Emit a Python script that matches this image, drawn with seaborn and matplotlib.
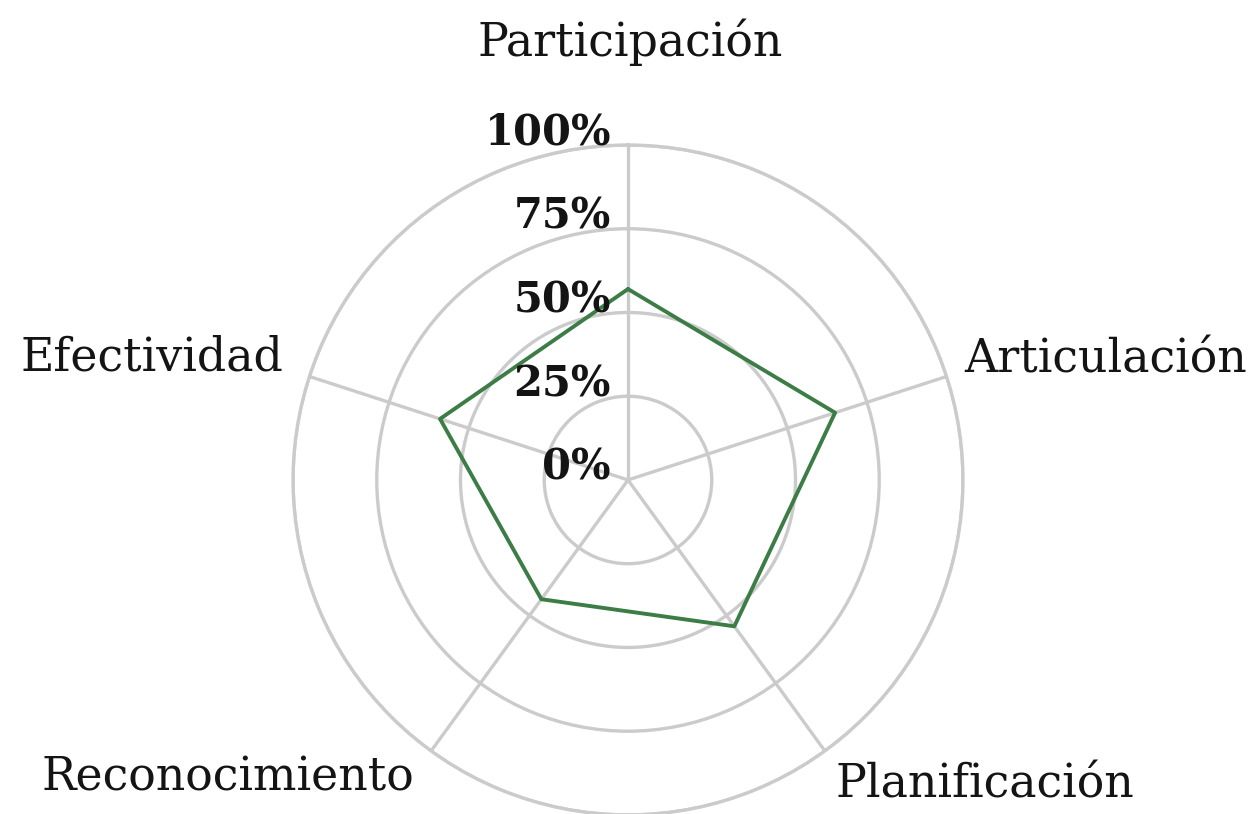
import numpy as np
import pandas as pd
import matplotlib
matplotlib.use('Agg')
import matplotlib.pyplot as plt
import matplotlib.transforms as mtransforms
import seaborn as sns

categories = ['Participación', 'Articulación', 'Planificación', 'Reconocimiento', 'Efectividad']
values = [57, 65, 54, 44, 59]
r_ticks = [0, 25, 50, 75, 100]
r_tick_labels = ['0%', '25%', '50%', '75%', '100%']

sns.set_style('white')
plt.rcParams['font.family'] = ['DejaVu Serif']

angles = np.linspace(0, 2 * np.pi, len(categories), endpoint=False)
df = pd.DataFrame({'theta': list(angles) + [2 * np.pi], 'value': values + [values[0]]})

fig = plt.figure(figsize=(12.56, 8.14), dpi=100)
ax = fig.add_axes([0.2333, -0.0012, 0.5334, 0.8231], projection='polar')
ax.set_theta_offset(np.pi / 2)
ax.set_theta_direction(-1)

grid_col = '#cbcbcb'
sns.lineplot(data=df, x='theta', y='value', sort=False, color='#3c7d46', linewidth=2.8, ax=ax, zorder=3)

ax.set_ylim(0, 100)
ax.set_yticks(r_ticks)
ax.set_yticklabels([])
ax.set_xticks(angles)
ax.set_xticklabels([])
ax.grid(True, color=grid_col, linewidth=2.4)
ax.spines['polar'].set_color(grid_col)
ax.spines['polar'].set_linewidth(2.4)
ax.set_xlabel('')
ax.set_ylabel('')

off = mtransforms.offset_copy(ax.transData, fig=fig, x=-17, y=0, units='dots')
for v, lab in zip(r_ticks, r_tick_labels):
    ax.text(0, v, lab, transform=off, ha='right', va='baseline',
            fontsize=30, fontweight='bold', color='#141414')

# category labels
label_pos = [(0.5015, 0.948, 'center'), (0.768, 0.558, 'left'), (0.665, 0.008, 'left'),
             (0.033, 0.044, 'left'), (0.016, 0.56, 'left')]
for (x, y, ha), lab in zip(label_pos, categories):
    va = 'bottom' if lab == 'Planificación' else 'center'
    fig.text(x, y, lab, ha=ha, va=va, fontsize=33, color='#141414')

plt.savefig('out.png', dpi=100)
